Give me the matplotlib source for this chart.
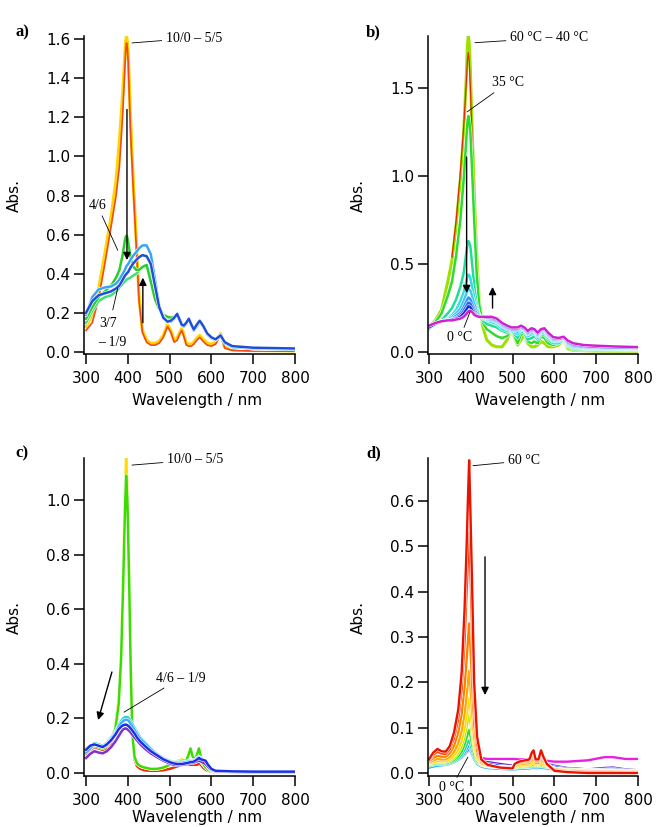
import matplotlib
matplotlib.use("Agg")
import matplotlib.pyplot as plt
import matplotlib.patheffects as pe

# ---------------- data ----------------
# panel a: titration 10/0 ... 1/9
wl_a = [300, 315, 330, 345, 360, 372, 380, 388, 393, 395, 397, 399, 401, 406, 412, 420, 427,
        435, 445, 455, 465, 475, 485, 495, 503, 511, 518, 524, 529, 534, 540, 546,
        552, 558, 565, 572, 580, 590, 600, 610, 622, 632, 650, 700, 800]
a_yellow = [0.13, 0.19, 0.32, 0.50, 0.69, 0.88, 1.08, 1.33, 1.52, 1.59, 1.615, 1.585, 1.52, 1.22, 0.92, 0.58, 0.28,
            0.11, 0.06, 0.045, 0.045, 0.055, 0.085, 0.14, 0.11, 0.06, 0.07, 0.10, 0.12, 0.09, 0.045, 0.04,
            0.04, 0.05, 0.07, 0.085, 0.065, 0.045, 0.04, 0.05, 0.095, 0.025, 0.012, 0.008, 0.006]
a_red = [0.11, 0.15, 0.27, 0.45, 0.64, 0.80, 0.95, 1.22, 1.45, 1.545, 1.58, 1.55, 1.48, 1.15, 0.88, 0.55, 0.26,
         0.10, 0.05, 0.035, 0.035, 0.045, 0.075, 0.13, 0.10, 0.05, 0.06, 0.09, 0.11, 0.08, 0.035, 0.03,
         0.03, 0.04, 0.06, 0.075, 0.055, 0.035, 0.03, 0.04, 0.085, 0.02, 0.008, 0.005, 0.004]
a_green = [0.17, 0.23, 0.28, 0.31, 0.34, 0.38, 0.42, 0.50, 0.57, 0.59, 0.595, 0.585, 0.56, 0.49, 0.44, 0.42, 0.42,
           0.435, 0.445, 0.36, 0.27, 0.22, 0.19, 0.18, 0.175, 0.18, 0.19, 0.17, 0.14, 0.13, 0.14, 0.16,
           0.14, 0.11, 0.13, 0.15, 0.13, 0.09, 0.07, 0.065, 0.09, 0.05, 0.025, 0.018, 0.014]
a_ltgreen = [0.15, 0.21, 0.26, 0.28, 0.29, 0.31, 0.33, 0.35, 0.36, 0.365, 0.37, 0.372, 0.375, 0.38, 0.39, 0.40, 0.415,
             0.43, 0.44, 0.40, 0.30, 0.22, 0.18, 0.165, 0.16, 0.17, 0.185, 0.165, 0.14, 0.13, 0.14, 0.16,
             0.14, 0.11, 0.13, 0.15, 0.13, 0.09, 0.07, 0.065, 0.085, 0.05, 0.025, 0.018, 0.014]
a_sky = [0.19, 0.28, 0.32, 0.33, 0.335, 0.35, 0.37, 0.40, 0.42, 0.43, 0.44, 0.445, 0.45, 0.47, 0.49, 0.51, 0.53,
         0.545, 0.545, 0.50, 0.37, 0.24, 0.18, 0.155, 0.155, 0.17, 0.19, 0.16, 0.135, 0.13, 0.145, 0.165,
         0.135, 0.11, 0.13, 0.155, 0.13, 0.09, 0.07, 0.062, 0.08, 0.045, 0.025, 0.018, 0.014]
a_blue = [0.20, 0.26, 0.29, 0.30, 0.31, 0.325, 0.34, 0.37, 0.39, 0.395, 0.40, 0.405, 0.41, 0.43, 0.45, 0.47, 0.485,
          0.495, 0.49, 0.45, 0.34, 0.23, 0.175, 0.155, 0.16, 0.175, 0.195, 0.165, 0.14, 0.135, 0.15, 0.17,
          0.14, 0.115, 0.14, 0.16, 0.135, 0.095, 0.075, 0.065, 0.085, 0.05, 0.03, 0.022, 0.018]

# panel b: temperature 60 -> 0 C
wl_b = [300, 315, 330, 345, 355, 365, 375, 383, 389, 392, 394, 396, 399, 404, 409, 414, 420,
        428, 438, 450, 462, 475, 487, 497, 505, 512, 520, 528, 536, 545, 552, 560,
        568, 576, 585, 597, 610, 622, 632, 645, 670, 700, 740, 800]
b_lime = [0.14, 0.18, 0.24, 0.40, 0.52, 0.72, 0.98, 1.25, 1.55, 1.74, 1.80, 1.76, 1.60, 1.20, 0.85, 0.55, 0.30,
          0.15, 0.07, 0.04, 0.03, 0.03, 0.07, 0.14, 0.08, 0.04, 0.07, 0.10, 0.05, 0.03, 0.03, 0.04,
          0.06, 0.05, 0.03, 0.03, 0.04, 0.07, 0.02, 0.01, 0.008, 0.006, 0.005, 0.005]
wl_b_red = [355, 365, 375, 383, 389, 392, 394, 396, 399, 404, 409, 414]
b_red = [0.54, 0.75, 1.02, 1.28, 1.52, 1.66, 1.70, 1.66, 1.50, 1.15, 0.82, 0.53]
b_green = [0.13, 0.17, 0.22, 0.32, 0.40, 0.55, 0.75, 0.98, 1.20, 1.31, 1.34, 1.32, 1.25, 0.98, 0.70, 0.45, 0.27,
           0.17, 0.13, 0.11, 0.09, 0.08, 0.09, 0.13, 0.09, 0.05, 0.10, 0.11, 0.06, 0.05, 0.06, 0.05,
           0.09, 0.08, 0.05, 0.04, 0.05, 0.07, 0.03, 0.015, 0.012, 0.01, 0.01, 0.01]
b_teal = [0.13, 0.16, 0.18, 0.22, 0.25, 0.30, 0.37, 0.45, 0.56, 0.61, 0.63, 0.625, 0.60, 0.48, 0.36, 0.27, 0.21,
          0.18, 0.16, 0.15, 0.14, 0.12, 0.11, 0.12, 0.10, 0.08, 0.12, 0.11, 0.07, 0.08, 0.09, 0.07,
          0.10, 0.10, 0.07, 0.05, 0.05, 0.07, 0.035, 0.02, 0.017, 0.015, 0.014, 0.013]
b_aqua = [0.13, 0.16, 0.175, 0.19, 0.21, 0.24, 0.29, 0.34, 0.40, 0.43, 0.44, 0.437, 0.42, 0.36, 0.30, 0.25, 0.21,
          0.19, 0.18, 0.17, 0.16, 0.13, 0.12, 0.12, 0.11, 0.10, 0.13, 0.12, 0.09, 0.10, 0.11, 0.08,
          0.11, 0.11, 0.08, 0.06, 0.06, 0.075, 0.04, 0.025, 0.02, 0.018, 0.017, 0.016]
b_cyan = [0.13, 0.16, 0.175, 0.185, 0.20, 0.22, 0.25, 0.29, 0.33, 0.35, 0.36, 0.357, 0.35, 0.31, 0.27, 0.235, 0.21,
          0.195, 0.185, 0.18, 0.17, 0.145, 0.13, 0.125, 0.12, 0.115, 0.135, 0.125, 0.10, 0.11, 0.115, 0.09,
          0.115, 0.12, 0.09, 0.065, 0.065, 0.078, 0.045, 0.03, 0.024, 0.021, 0.02, 0.018]
b_sky = [0.135, 0.16, 0.175, 0.18, 0.19, 0.205, 0.225, 0.255, 0.285, 0.30, 0.31, 0.308, 0.30, 0.27, 0.24, 0.22, 0.205,
         0.20, 0.19, 0.185, 0.175, 0.15, 0.135, 0.13, 0.125, 0.125, 0.14, 0.13, 0.105, 0.12, 0.12, 0.095,
         0.12, 0.125, 0.095, 0.07, 0.07, 0.08, 0.05, 0.035, 0.027, 0.024, 0.022, 0.02]
b_royal = [0.14, 0.16, 0.175, 0.18, 0.185, 0.195, 0.21, 0.235, 0.26, 0.272, 0.28, 0.279, 0.275, 0.25, 0.225, 0.21, 0.20,
           0.20, 0.195, 0.19, 0.18, 0.155, 0.14, 0.13, 0.13, 0.13, 0.14, 0.13, 0.11, 0.125, 0.12, 0.10,
           0.12, 0.128, 0.10, 0.075, 0.072, 0.08, 0.055, 0.04, 0.03, 0.027, 0.025, 0.022]
b_blue = [0.14, 0.16, 0.175, 0.18, 0.185, 0.19, 0.20, 0.22, 0.24, 0.252, 0.26, 0.259, 0.255, 0.235, 0.215, 0.205, 0.20,
          0.20, 0.195, 0.195, 0.185, 0.16, 0.145, 0.135, 0.135, 0.135, 0.145, 0.135, 0.115, 0.13, 0.125, 0.105,
          0.125, 0.13, 0.105, 0.08, 0.075, 0.082, 0.06, 0.045, 0.035, 0.03, 0.027, 0.024]
b_magenta = [0.15, 0.165, 0.175, 0.18, 0.18, 0.185, 0.19, 0.20, 0.215, 0.225, 0.23, 0.233, 0.235, 0.225, 0.21, 0.205, 0.20,
             0.20, 0.20, 0.20, 0.19, 0.165, 0.15, 0.14, 0.14, 0.14, 0.15, 0.14, 0.12, 0.135, 0.13, 0.11,
             0.13, 0.135, 0.11, 0.085, 0.08, 0.087, 0.065, 0.05, 0.04, 0.036, 0.032, 0.028]

# panel c: titration 10/0 ... 1/9
wl_c = [300, 310, 320, 330, 340, 350, 360, 370, 378, 384, 389, 393, 396, 399, 403,
        407, 411, 416, 422, 430, 440, 455, 470, 485, 500, 510, 520, 530, 540, 546,
        550, 555, 562, 566, 570, 575, 580, 586, 592, 600, 610, 650, 700, 800]
c_red = [0.07, 0.085, 0.095, 0.09, 0.085, 0.09, 0.11, 0.15, 0.24, 0.41, 0.70, 0.96, 1.10, 1.00, 0.72,
         0.38, 0.13, 0.05, 0.025, 0.015, 0.01, 0.008, 0.008, 0.01, 0.015, 0.02, 0.025, 0.03, 0.03, 0.03,
         0.03, 0.03, 0.03, 0.03, 0.035, 0.03, 0.02, 0.012, 0.008, 0.005, 0.003, 0.002, 0.002, 0.002]
c_yellow = [0.09, 0.10, 0.11, 0.10, 0.095, 0.10, 0.12, 0.17, 0.27, 0.45, 0.75, 1.02, 1.155, 1.05, 0.75,
            0.40, 0.15, 0.06, 0.035, 0.025, 0.02, 0.015, 0.015, 0.02, 0.03, 0.04, 0.045, 0.05, 0.04, 0.04,
            0.045, 0.04, 0.04, 0.045, 0.05, 0.04, 0.03, 0.02, 0.012, 0.008, 0.005, 0.004, 0.003, 0.003]
c_green = [0.08, 0.09, 0.10, 0.095, 0.09, 0.10, 0.12, 0.16, 0.25, 0.42, 0.70, 0.95, 1.09, 1.00, 0.72,
           0.38, 0.14, 0.06, 0.035, 0.025, 0.02, 0.015, 0.015, 0.02, 0.03, 0.035, 0.04, 0.045, 0.045, 0.07,
           0.09, 0.06, 0.05, 0.07, 0.09, 0.06, 0.035, 0.02, 0.012, 0.008, 0.005, 0.004, 0.003, 0.003]
c_cyan = [0.08, 0.095, 0.11, 0.105, 0.10, 0.11, 0.13, 0.15, 0.175, 0.19, 0.20, 0.205, 0.205, 0.205, 0.20,
          0.19, 0.18, 0.165, 0.15, 0.13, 0.115, 0.09, 0.07, 0.055, 0.045, 0.04, 0.04, 0.04, 0.042, 0.045,
          0.045, 0.045, 0.05, 0.055, 0.06, 0.055, 0.045, 0.035, 0.02, 0.01, 0.006, 0.005, 0.004, 0.004]
c_sky = [0.075, 0.09, 0.105, 0.10, 0.095, 0.105, 0.125, 0.145, 0.17, 0.183, 0.19, 0.195, 0.195, 0.195, 0.19,
         0.18, 0.17, 0.158, 0.143, 0.125, 0.11, 0.087, 0.068, 0.053, 0.043, 0.038, 0.037, 0.037, 0.04, 0.042,
         0.043, 0.043, 0.048, 0.053, 0.058, 0.053, 0.045, 0.036, 0.022, 0.011, 0.006, 0.005, 0.004, 0.004]
c_blue = [0.085, 0.10, 0.105, 0.10, 0.095, 0.105, 0.12, 0.14, 0.16, 0.17, 0.175, 0.177, 0.177, 0.175, 0.17,
          0.163, 0.155, 0.145, 0.13, 0.115, 0.10, 0.08, 0.065, 0.05, 0.04, 0.035, 0.033, 0.033, 0.036, 0.038,
          0.04, 0.04, 0.045, 0.05, 0.055, 0.05, 0.048, 0.045, 0.03, 0.015, 0.008, 0.006, 0.005, 0.005]
c_purple = [0.055, 0.07, 0.08, 0.075, 0.072, 0.08, 0.095, 0.115, 0.135, 0.15, 0.16, 0.163, 0.163, 0.16, 0.155,
            0.148, 0.14, 0.13, 0.12, 0.105, 0.09, 0.072, 0.058, 0.045, 0.035, 0.03, 0.028, 0.03, 0.032, 0.035,
            0.036, 0.036, 0.04, 0.043, 0.045, 0.042, 0.038, 0.033, 0.022, 0.012, 0.006, 0.004, 0.003, 0.003]

# panel d: temperature 60 -> 0 C
wl_d = [300, 310, 320, 330, 340, 350, 360, 370, 378, 385, 390, 393, 396, 399, 403,
        408, 415, 425, 440, 470, 500, 505, 515, 540, 546, 550, 555, 562, 568, 574,
        582, 600, 630, 680, 720, 740, 770, 800]
d_60 = [0.03, 0.045, 0.053, 0.048, 0.047, 0.06, 0.09, 0.14, 0.22, 0.36, 0.50, 0.60, 0.69, 0.58, 0.42,
        0.20, 0.08, 0.03, 0.018, 0.012, 0.01, 0.02, 0.025, 0.03, 0.045, 0.05, 0.03, 0.03, 0.05, 0.035,
        0.02, 0.005, 0.002, 0.0, 0.0, 0.0, 0.0, 0.0]
d_55 = [0.028, 0.04, 0.047, 0.043, 0.042, 0.053, 0.078, 0.12, 0.185, 0.29, 0.40, 0.47, 0.53, 0.45, 0.32,
        0.16, 0.065, 0.028, 0.017, 0.012, 0.01, 0.02, 0.024, 0.028, 0.042, 0.047, 0.028, 0.028, 0.047, 0.032,
        0.02, 0.006, 0.003, 0.002, 0.002, 0.002, 0.001, 0.001]
d_50 = [0.025, 0.033, 0.038, 0.036, 0.036, 0.044, 0.06, 0.09, 0.13, 0.19, 0.25, 0.29, 0.33, 0.28, 0.20,
        0.11, 0.05, 0.025, 0.017, 0.013, 0.012, 0.018, 0.022, 0.026, 0.036, 0.04, 0.026, 0.026, 0.04, 0.03,
        0.02, 0.008, 0.004, 0.003, 0.003, 0.003, 0.002, 0.002]
d_45 = [0.022, 0.028, 0.031, 0.03, 0.03, 0.036, 0.047, 0.066, 0.092, 0.13, 0.17, 0.20, 0.225, 0.19, 0.14,
        0.08, 0.04, 0.022, 0.016, 0.013, 0.012, 0.016, 0.019, 0.022, 0.028, 0.03, 0.022, 0.022, 0.03, 0.025,
        0.018, 0.009, 0.005, 0.004, 0.004, 0.004, 0.003, 0.003]
d_40 = [0.02, 0.024, 0.026, 0.026, 0.026, 0.03, 0.038, 0.052, 0.07, 0.098, 0.127, 0.147, 0.165, 0.142, 0.105,
        0.062, 0.033, 0.02, 0.015, 0.013, 0.012, 0.014, 0.016, 0.018, 0.021, 0.022, 0.019, 0.019, 0.022, 0.02,
        0.016, 0.01, 0.006, 0.005, 0.005, 0.005, 0.004, 0.004]
d_35 = [0.019, 0.022, 0.024, 0.024, 0.024, 0.027, 0.033, 0.044, 0.058, 0.08, 0.102, 0.117, 0.13, 0.113, 0.085,
        0.052, 0.03, 0.019, 0.015, 0.013, 0.012, 0.013, 0.014, 0.016, 0.017, 0.018, 0.017, 0.017, 0.018, 0.017,
        0.015, 0.01, 0.007, 0.006, 0.006, 0.006, 0.005, 0.005]
d_30 = [0.018, 0.02, 0.022, 0.022, 0.022, 0.024, 0.029, 0.037, 0.047, 0.063, 0.078, 0.088, 0.095, 0.083, 0.064,
        0.042, 0.026, 0.018, 0.015, 0.013, 0.012, 0.012, 0.013, 0.014, 0.015, 0.015, 0.015, 0.015, 0.016, 0.015,
        0.014, 0.01, 0.007, 0.006, 0.006, 0.006, 0.005, 0.005]
d_25 = [0.016, 0.018, 0.02, 0.02, 0.02, 0.022, 0.026, 0.032, 0.04, 0.051, 0.062, 0.068, 0.072, 0.064, 0.05,
        0.035, 0.023, 0.017, 0.014, 0.012, 0.011, 0.011, 0.012, 0.013, 0.014, 0.014, 0.014, 0.014, 0.015, 0.014,
        0.013, 0.01, 0.007, 0.006, 0.006, 0.006, 0.005, 0.005]
d_20 = [0.012, 0.014, 0.016, 0.017, 0.018, 0.02, 0.024, 0.029, 0.035, 0.044, 0.053, 0.058, 0.062, 0.055, 0.043,
        0.03, 0.02, 0.014, 0.011, 0.009, 0.008, 0.008, 0.009, 0.01, 0.011, 0.011, 0.011, 0.011, 0.012, 0.011,
        0.01, 0.007, 0.005, 0.004, 0.004, 0.004, 0.003, 0.003]
d_10 = [0.014, 0.016, 0.018, 0.019, 0.02, 0.022, 0.025, 0.029, 0.034, 0.041, 0.048, 0.052, 0.055, 0.05, 0.04,
        0.032, 0.026, 0.022, 0.02, 0.016, 0.013, 0.013, 0.013, 0.014, 0.015, 0.015, 0.016, 0.017, 0.018, 0.018,
        0.017, 0.013, 0.009, 0.006, 0.008, 0.009, 0.006, 0.005]
d_5 = [0.018, 0.02, 0.022, 0.023, 0.024, 0.026, 0.028, 0.031, 0.035, 0.04, 0.046, 0.049, 0.052, 0.048, 0.04,
       0.034, 0.029, 0.026, 0.024, 0.02, 0.016, 0.016, 0.016, 0.017, 0.018, 0.018, 0.019, 0.02, 0.021, 0.021,
       0.02, 0.016, 0.011, 0.008, 0.011, 0.012, 0.008, 0.006]
d_0 = [0.024, 0.026, 0.027, 0.028, 0.029, 0.03, 0.032, 0.034, 0.037, 0.041, 0.045, 0.048, 0.05, 0.047, 0.042,
       0.038, 0.035, 0.033, 0.031, 0.031, 0.031, 0.031, 0.03, 0.03, 0.03, 0.029, 0.029, 0.029, 0.028, 0.028,
       0.027, 0.025, 0.025, 0.028, 0.035, 0.035, 0.031, 0.031]

# ---------------- plotting ----------------
W, H = 661, 827
fig = plt.figure(figsize=(W / 100, H / 100), dpi=100)

TICKFONT = "DejaVu Sans"
SERIF = "Liberation Serif"


def halo(lw):
    return [pe.Stroke(linewidth=lw + 0.8, foreground="white"), pe.Normal()]


def make_axes(left_px, right_px, top_px, bottom_px):
    return fig.add_axes([left_px / W, 1 - bottom_px / H,
                         (right_px - left_px) / W, (bottom_px - top_px) / H])


def style(ax, xlim, ylim, yticks, yfmt, xlabel_y=-0.122):
    ax.set_xlim(*xlim)
    ax.set_ylim(*ylim)
    ax.set_xticks([300, 400, 500, 600, 700, 800])
    ax.set_yticks(yticks)
    ax.set_yticklabels([yfmt.format(v) for v in yticks])
    for s in ("top", "right"):
        ax.spines[s].set_visible(False)
    for s in ("left", "bottom"):
        ax.spines[s].set_linewidth(1.1)
    ax.tick_params(axis="both", direction="out", length=7, width=1.1,
                   labelsize=11)
    ax.tick_params(axis="x", pad=5)
    ax.tick_params(axis="y", pad=3)
    for lab in ax.get_xticklabels() + ax.get_yticklabels():
        lab.set_fontfamily(TICKFONT)
    ax.set_xlabel("Wavelength / nm", fontsize=11, family=TICKFONT)
    ax.set_ylabel("Abs.", fontsize=11, family=TICKFONT)
    ax.xaxis.set_label_coords(0.535, xlabel_y)
    ax.yaxis.set_label_coords(-0.295, 0.5)


def plot_set(ax, wl, curves, lw=1.8):
    for y, c in curves:
        ax.plot(wl, y, color=c, lw=lw, path_effects=halo(lw), solid_joinstyle="round")


def arrow(ax, tail, tip):
    ax.annotate("", xy=tip, xytext=tail,
                arrowprops=dict(arrowstyle="-|>", color="black", lw=1.0,
                                mutation_scale=11, shrinkA=0, shrinkB=0))


def label(ax, text, xy, xytext, ha="left", va="center"):
    ax.annotate(text, xy=xy, xytext=xytext, ha=ha, va=va, fontsize=10,
                family=SERIF, annotation_clip=False,
                arrowprops=dict(arrowstyle="-", color="black", lw=0.6,
                                shrinkA=1, shrinkB=0))


# ---- panel a ----
axa = make_axes(84, 295, 36, 354)
plot_set(axa, wl_a, [(a_yellow, "#ffd400")], lw=2.3)
axa.plot(wl_a, a_red, color="#ee4a1a", lw=1.2, solid_joinstyle="round")
plot_set(axa, wl_a, [(a_ltgreen, "#3ee07a"), (a_green, "#2ccc2c"),
                     (a_sky, "#3aa6f0"), (a_blue, "#1f4fd8")])
style(axa, (295.2, 800), (-0.0102, 1.6155), [0, 0.2, 0.4, 0.6, 0.8, 1.0, 1.2, 1.4, 1.6], "{:.1f}")
label(axa, "10/0 – 5/5", (410, 1.58), (491, 1.605))
label(axa, "4/6", (376, 0.52), (327, 0.75), ha="center")
axa.annotate("", xy=(376, 0.327), xytext=(364, 0.215),
             arrowprops=dict(arrowstyle="-", color="black", lw=0.6, shrinkA=0, shrinkB=0))
axa.text(353, 0.148, "3/7", ha="center", va="center", fontsize=10, family=SERIF)
axa.text(362, 0.051, "– 1/9", ha="center", va="center", fontsize=10, family=SERIF)
arrow(axa, (398, 1.24), (398, 0.47))
arrow(axa, (436, 0.15), (436, 0.38))

# ---- panel b ----
axb = make_axes(428, 638, 36, 354)
plot_set(axb, wl_b, [(b_lime, "#9ee000")], lw=2.2)
axb.plot(wl_b_red, b_red, color="#d83000", lw=0.9)
plot_set(axb, wl_b, [(b_green, "#2edc2e"), (b_teal, "#22dc9a"), (b_aqua, "#33dede"),
                     (b_cyan, "#44c8f0"), (b_sky, "#3494ff"), (b_royal, "#2560f0"),
                     (b_blue, "#1a2ed8"), (b_magenta, "#d020d0")])
style(axb, (297.6, 800), (-0.011, 1.795), [0, 0.5, 1.0, 1.5], "{:.1f}")
label(axb, "60 °C – 40 °C", (410, 1.757), (494, 1.784))
label(axb, "35 °C", (391, 1.364), (451, 1.53))
label(axb, "0 °C", (398, 0.227), (374, 0.08), ha="center")
arrow(axb, (390, 1.108), (390, 0.335))
arrow(axb, (452, 0.25), (452, 0.37))

# ---- panel c ----
axc = make_axes(84, 295, 458, 776)
plot_set(axc, wl_c, [(c_red, "#e83000"), (c_yellow, "#ffdc00"), (c_green, "#3cdc00"),
                     (c_cyan, "#22d8d8"), (c_sky, "#45aaff"), (c_purple, "#8030cc"),
                     (c_blue, "#1a30e8")])
style(axc, (295.2, 800), (-0.011, 1.154), [0, 0.2, 0.4, 0.6, 0.8, 1.0], "{:.1f}",
      xlabel_y=-0.108)
label(axc, "10/0 – 5/5", (410, 1.128), (494, 1.147))
label(axc, "4/6 – 1/9", (391, 0.223), (467, 0.348))
arrow(axc, (362, 0.37), (329, 0.194))

# ---- panel d ----
axd = make_axes(428, 638, 458, 776)
plot_set(axd, wl_d, [(d_0, "#e820e0"), (d_5, "#5a22cc"), (d_10, "#2250e8"),
                     (d_20, "#28b4ff"), (d_25, "#22d8a8"), (d_30, "#2ad82a"),
                     (d_35, "#b8e800"), (d_40, "#ffdc00"), (d_45, "#ffaa00"),
                     (d_50, "#ff8000"), (d_55, "#ff4400"), (d_60, "#e81400")], lw=1.7)
style(axd, (297.6, 800), (-0.0066, 0.695), [0, 0.1, 0.2, 0.3, 0.4, 0.5, 0.6], "{:.1f}",
      xlabel_y=-0.108)
label(axd, "60 °C", (405, 0.678), (489, 0.689))
label(axd, "0 °C", (393, 0.035), (353, -0.033), ha="center")
arrow(axd, (434, 0.477), (434, 0.172))

# panel letters
for txt, xp, yp in [("a)", 15, 32), ("b)", 366, 32), ("c)", 15, 453), ("d)", 366, 453)]:
    fig.text(xp / W, 1 - yp / H, txt, ha="left", va="center", fontsize=12,
             fontweight="bold", family=SERIF)

fig.savefig("out.png", dpi=100)
